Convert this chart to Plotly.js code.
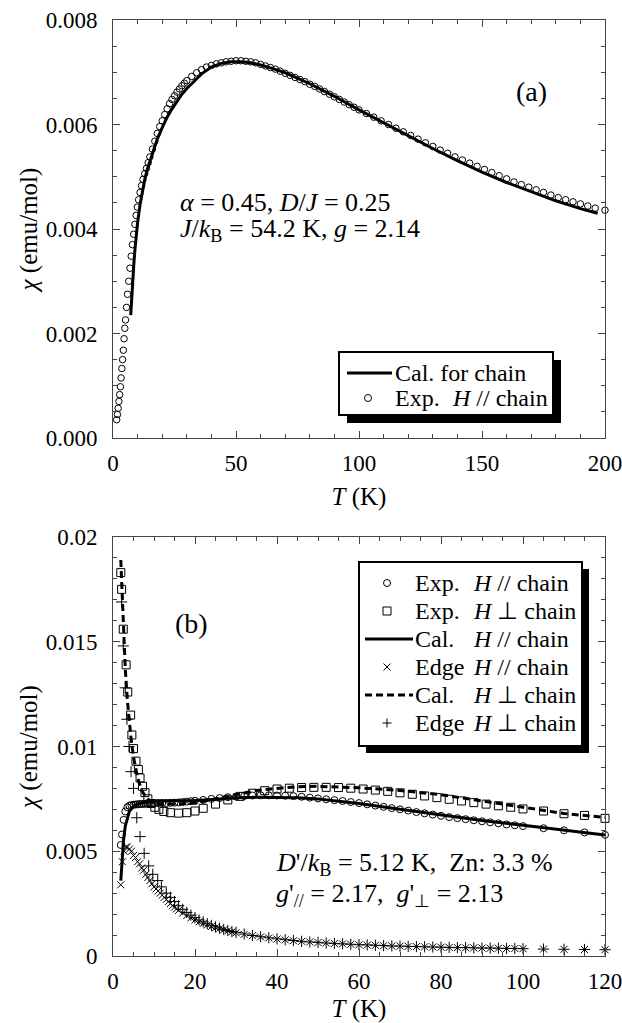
<!DOCTYPE html>
<html><head><meta charset="utf-8">
<script src="https://cdn.plot.ly/plotly-3.0.1.min.js"></script>
<style>html,body{margin:0;padding:0;background:#fff;}#chart{width:622px;height:1023px;}</style>
</head><body><div id="chart"></div>
<script>
// ---------- Panel (a) data ----------
const A_T_exp = [
1.5, 1.8, 2.1, 2.4, 2.7, 3.0, 3.3, 3.6, 3.9, 4.2,
4.5, 4.8, 5.1, 5.5, 5.9, 6.4, 6.9, 7.4, 7.9, 8.4,
8.9, 9.4, 9.9, 10.4, 11.0, 11.6, 12.2, 12.9, 13.6, 14.3,
15, 16, 17, 18, 19, 20, 21, 22, 23, 24,
25, 26, 27, 28, 29, 30, 32, 34, 36, 38,
40, 42, 44, 46, 48, 50, 52, 54, 56, 58,
60, 62, 64, 66, 68, 70, 72, 74, 76, 78,
80, 82, 84, 86, 88, 90, 92, 94, 96, 98,
100, 103, 106, 109, 112, 115, 118, 121, 124, 127,
130, 133, 136, 139, 142, 145, 148, 151, 154, 157,
160, 163, 166, 169, 172, 175, 178, 181, 184, 187,
190, 193, 196, 200];
const A_chi_exp = [
0.00035, 0.00045, 0.00057, 0.0007, 0.00083, 0.00098, 0.00115, 0.00133, 0.0015, 0.00168,
0.0019, 0.0021, 0.00226, 0.0025, 0.00275, 0.003, 0.00325, 0.00348, 0.0037, 0.0039,
0.00409, 0.00426, 0.00442, 0.00456, 0.0047, 0.00483, 0.00495, 0.00506, 0.00516, 0.00527,
0.00538, 0.00553, 0.00568, 0.00583, 0.00596, 0.00607, 0.00619, 0.0063, 0.0064, 0.00648,
0.00655, 0.00662, 0.00668, 0.00674, 0.00679, 0.00684, 0.00692, 0.00699, 0.00705, 0.0071,
0.00713, 0.00716, 0.00718, 0.0072, 0.00721, 0.00722, 0.00722, 0.00721, 0.0072, 0.00718,
0.00715, 0.00712, 0.00709, 0.00706, 0.00702, 0.00698, 0.00694, 0.0069, 0.00686, 0.00682,
0.00677, 0.00673, 0.00668, 0.00663, 0.00658, 0.00653, 0.00648, 0.00643, 0.00638, 0.00633,
0.00628, 0.00621, 0.00614, 0.00607, 0.006, 0.00593, 0.00586, 0.00579, 0.00572, 0.00565,
0.00558, 0.00551, 0.00545, 0.00538, 0.00532, 0.00526, 0.0052, 0.00514, 0.00508, 0.00502,
0.00496, 0.0049, 0.00485, 0.0048, 0.00475, 0.0047, 0.00465, 0.0046, 0.00456, 0.00452,
0.00448, 0.00444, 0.0044, 0.00436];
const A_T_cal = [
7.2, 7.6, 8.0, 8.5, 9.0, 9.5, 10, 11, 12, 13,
14, 15, 16, 18, 20, 22, 24, 26, 28, 30,
33, 36, 40, 44, 48, 52, 56, 60, 65, 70,
80, 90, 100, 110, 120, 130, 140, 150, 160, 170,
180, 190, 197];
const A_chi_cal = [
0.00235, 0.0027, 0.00302, 0.00335, 0.00365, 0.0039, 0.00412, 0.00447, 0.00475, 0.00497,
0.00515, 0.0053, 0.00545, 0.00572, 0.00594, 0.00614, 0.0063, 0.00645, 0.00658, 0.00669,
0.00684, 0.00697, 0.0071, 0.00717, 0.0072, 0.0072, 0.00718, 0.00714, 0.00707, 0.00699,
0.00678, 0.00654, 0.00628, 0.00603, 0.00578, 0.00554, 0.00531, 0.00509, 0.00489, 0.00471,
0.00454, 0.00439, 0.0043];

// ---------- Panel (b) data ----------
const B_T_par = [
1.9, 2.2, 2.6, 3.0, 3.5, 4.0, 4.5, 5.0, 5.5, 6.0,
6.5, 7.0, 7.5, 8.0, 8.5, 9.0, 9.5, 10, 11, 12,
13, 14, 15, 16, 17, 18, 19, 20, 22, 24,
26, 28, 30, 32, 34, 36, 38, 40, 42, 44,
46, 48, 50, 52, 54, 56, 58, 60, 62, 64,
66, 68, 70, 72, 74, 76, 78, 80, 82, 84,
86, 88, 90, 92, 94, 96, 98, 100, 105, 110,
115, 120];
const B_chi_par = [
0.0053, 0.0058, 0.0065, 0.0069, 0.0071, 0.00718, 0.0072, 0.00722, 0.00723, 0.00724,
0.00725, 0.00726, 0.00726, 0.00727, 0.00728, 0.00728, 0.00729, 0.0073, 0.0073, 0.0073,
0.0073, 0.00731, 0.00732, 0.00733, 0.00735, 0.00737, 0.00739, 0.00741, 0.00745, 0.0075,
0.00754, 0.00758, 0.00761, 0.00764, 0.00766, 0.00767, 0.00767, 0.00766, 0.00765, 0.00763,
0.0076, 0.00756, 0.00752, 0.00748, 0.00744, 0.0074, 0.00735, 0.0073, 0.00724, 0.00718,
0.00712, 0.00706, 0.007, 0.00694, 0.00687, 0.00681, 0.00675, 0.00669, 0.00663, 0.00658,
0.00653, 0.00648, 0.00643, 0.00638, 0.00633, 0.00628, 0.00624, 0.0062, 0.0061, 0.006,
0.0059, 0.00578];
const B_T_perp = [
1.9, 2.1, 2.5, 3.2, 3.6, 4.3, 4.6, 5.0, 5.6, 6.2,
6.6, 7.2, 7.8, 8.5, 9.3, 10.2, 11.2, 12.4, 14, 16,
18, 20, 22, 25, 28, 31, 34, 37, 40, 43,
46, 49, 52, 55, 58, 61, 64, 67, 70, 73,
76, 79, 82, 85, 88, 91, 94, 97, 100, 105,
110, 115, 120];
const B_chi_perp = [
0.0183, 0.0175, 0.0156, 0.0139, 0.0126, 0.0115, 0.01055, 0.0099, 0.0093, 0.0089,
0.0085, 0.0081, 0.0078, 0.0075, 0.00728, 0.0071, 0.007, 0.0069, 0.00684, 0.00682,
0.00684, 0.00692, 0.00705, 0.00725, 0.00745, 0.00762, 0.00777, 0.00789, 0.00797, 0.00801,
0.00804, 0.00805, 0.00805, 0.00804, 0.00801, 0.00797, 0.00792, 0.00786, 0.00779, 0.00772,
0.00764, 0.00756, 0.00748, 0.0074, 0.00732, 0.00725, 0.00717, 0.0071, 0.00702, 0.00692,
0.00679, 0.00671, 0.00657];
const B_T_cpar = [
1.9, 2.1, 2.3, 2.6, 3.0, 3.5, 4.0, 5.0, 6.0, 7.0,
8, 10, 12, 15, 20, 25, 30, 35, 40, 45,
50, 60, 70, 80, 90, 100, 110, 120];
const B_chi_cpar = [
0.0036, 0.0043, 0.0049, 0.0056, 0.0062, 0.0066, 0.0069, 0.00715, 0.00725, 0.0073,
0.00735, 0.0074, 0.0074, 0.0074, 0.00742, 0.00748, 0.00755, 0.00758, 0.00758, 0.00755,
0.0075, 0.00728, 0.007, 0.00672, 0.00647, 0.00624, 0.00602, 0.00578];
const B_T_cperp = [
1.9, 2.0, 2.2, 2.5, 3.0, 3.5, 4.0, 4.5, 5.0, 5.5,
6, 7, 8, 9, 10, 12, 15, 20, 25, 30,
35, 40, 45, 50, 55, 60, 70, 80, 90, 100,
110, 120];
const B_chi_cperp = [
0.0189, 0.0184, 0.0172, 0.0157, 0.0137, 0.0122, 0.0111, 0.0102, 0.0095, 0.0089,
0.0085, 0.0079, 0.0076, 0.0074, 0.0073, 0.00725, 0.00725, 0.0073, 0.0075, 0.0077,
0.0079, 0.008, 0.00808, 0.0081, 0.00808, 0.00803, 0.0079, 0.0077, 0.0074, 0.0071,
0.0068, 0.00662];
const B_T_edgePar = [
1.9, 2.3, 2.7, 3.1, 3.5, 4.0, 4.5, 5.0, 5.5, 6.0,
6.5, 7.0, 7.5, 8.0, 8.5, 9.0, 9.5, 10, 10.5, 11,
11.5, 12, 12.5, 13, 13.5, 14, 14.5, 15, 15.5, 16,
17, 18, 19, 20, 21, 22, 23, 24, 25, 26,
27, 28, 29, 30, 32, 34, 36, 38, 40, 42,
44, 46, 48, 50, 52, 54, 56, 58, 60, 62,
64, 66, 68, 70, 72, 74, 76, 78, 80, 82,
84, 86, 88, 90, 92, 94, 96, 98, 100, 105,
110, 115, 120];
const B_chi_edgePar = [
0.0034, 0.0045, 0.005, 0.0052, 0.0052, 0.0051, 0.005, 0.0048, 0.0047, 0.0045,
0.0044, 0.0042, 0.0041, 0.0039, 0.00375, 0.0036, 0.00345, 0.0033, 0.0032, 0.0031,
0.003, 0.0029, 0.0028, 0.0027, 0.0026, 0.0025, 0.0024, 0.00233, 0.00225, 0.00218,
0.00205, 0.00193, 0.00182, 0.00172, 0.00163, 0.00155, 0.00148, 0.00141, 0.00135, 0.0013,
0.00125, 0.0012, 0.00115, 0.00111, 0.00103, 0.00097, 0.00091, 0.00086, 0.00081, 0.00077,
0.00073, 0.0007, 0.00067, 0.00064, 0.00062, 0.0006, 0.00058, 0.00056, 0.00054, 0.00052,
0.00051, 0.00049, 0.00048, 0.00047, 0.00046, 0.00045, 0.00044, 0.00043, 0.00042, 0.00041,
0.0004, 0.00039, 0.00039, 0.00038, 0.00037, 0.00037, 0.00036, 0.00036, 0.00035, 0.00033,
0.00032, 0.00031, 0.0003];
const B_T_edgePerp = [
2.1, 2.5, 3.0, 3.4, 3.9, 4.4, 5.0, 5.8, 6.6, 7.6,
8.7, 9.7, 10.9, 11.8, 13, 14, 15, 16, 17, 18,
19, 20, 21, 22, 23, 24, 25, 26, 27, 28,
29, 30, 32, 34, 36, 38, 40, 42, 44, 46,
48, 50, 52, 54, 56, 58, 60, 62, 64, 66,
68, 70, 72, 74, 76, 78, 80, 82, 84, 86,
88, 90, 92, 94, 96, 98, 100, 105, 110, 115,
120];
const B_chi_edgePerp = [
0.0169, 0.0148, 0.0128, 0.0113, 0.01, 0.0088, 0.008, 0.0066, 0.0057, 0.0049,
0.0043, 0.0039, 0.0036, 0.0033, 0.003, 0.0028, 0.0026, 0.0024, 0.00223, 0.00208,
0.00195, 0.00183, 0.00172, 0.00163, 0.00154, 0.00146, 0.00139, 0.00133, 0.00127, 0.00122,
0.00117, 0.00113, 0.00105, 0.00098, 0.00092, 0.00087, 0.00082, 0.00078, 0.00074, 0.0007,
0.00067, 0.00065, 0.00062, 0.0006, 0.00058, 0.00056, 0.00054, 0.00053, 0.00051, 0.0005,
0.00048, 0.00047, 0.00046, 0.00045, 0.00044, 0.00043, 0.00042, 0.00041, 0.0004, 0.0004,
0.00039, 0.00038, 0.00038, 0.00037, 0.00036, 0.00036, 0.00035, 0.00033, 0.00032, 0.00031,
0.0003];

// ---------- Text ----------
const FONT = 'Liberation Serif, Times New Roman, serif';
const legendA = [
  {kind: 'line', head: 'Cal. for chain', tail: ''},
  {kind: 'circle', head: 'Exp.', tail: '<i>H</i> // chain'}
];
const legendB = [
  {kind: 'circle', head: 'Exp.', tail: '<i>H</i> // chain'},
  {kind: 'square', head: 'Exp.', tail: '<i>H</i> ⊥ chain'},
  {kind: 'line', head: 'Cal.', tail: '<i>H</i> // chain'},
  {kind: 'x', head: 'Edge', tail: '<i>H</i> // chain'},
  {kind: 'dash', head: 'Cal.', tail: '<i>H</i> ⊥ chain'},
  {kind: 'plus', head: 'Edge', tail: '<i>H</i> ⊥ chain'}
];

// ---------- helpers (pixel -> paper) ----------
const ML = 113, MR = 17, MT = 20, MB = 67, W = 622, H = 1023;
const PW = W - ML - MR, PH = H - MT - MB;
const X = px => (px - ML) / PW;
const Y = py => (H - MB - py) / PH;
const DASH = '7px,4px';

function ann(text, px, py, size, xanchor) {
  return {xref: 'paper', yref: 'paper', x: X(px), y: Y(py), text: text, showarrow: false,
    xanchor: xanchor || 'left', yanchor: 'middle', font: {family: FONT, size: size, color: '#000'}};
}
function pixShape(type, px, py, x0, y0, x1, y1, extra) {
  return Object.assign({type: type, xref: 'paper', yref: 'paper', xsizemode: 'pixel', ysizemode: 'pixel',
    xanchor: X(px), yanchor: Y(py), x0: x0, x1: x1, y0: y0, y1: y1, layer: 'above',
    line: {color: '#000', width: 1}}, extra || {});
}
function marker(kind, px, py) {
  if (kind === 'circle') return [pixShape('circle', px, py, -3.5, -3.5, 3.5, 3.5)];
  if (kind === 'square') return [pixShape('rect', px, py, -4, -4, 4, 4)];
  if (kind === 'x') return [pixShape('line', px, py, -3.5, -3.5, 3.5, 3.5), pixShape('line', px, py, -3.5, 3.5, 3.5, -3.5)];
  if (kind === 'plus') return [pixShape('line', px, py, -4.5, 0, 4.5, 0), pixShape('line', px, py, 0, -4.5, 0, 4.5)];
  return [];
}
function hline(x0, x1, py, dash) {
  return {type: 'line', xref: 'paper', yref: 'paper', x0: X(x0), x1: X(x1), y0: Y(py), y1: Y(py),
    layer: 'above', line: {color: '#000', width: 3, dash: dash || 'solid'}};
}
function box(x0, y0, x1, y1, sh) {
  return [
    {type: 'rect', xref: 'paper', yref: 'paper', x0: X(x0 + sh), x1: X(x1 + sh), y0: Y(y0 + sh), y1: Y(y1 + sh),
      fillcolor: '#000', line: {width: 0}, layer: 'above'},
    {type: 'rect', xref: 'paper', yref: 'paper', x0: X(x0), x1: X(x1), y0: Y(y0), y1: Y(y1),
      fillcolor: '#fff', line: {color: '#000', width: 2}, layer: 'above'}
  ];
}

const shapes = [], annotations = [];
// legend (a)
shapes.push(...box(339, 352, 553, 415, 8));
legendA.forEach((it, i) => {
  const py = 373 + i * 25;
  if (it.kind === 'line') shapes.push(hline(347, 392, py));
  else shapes.push(...marker(it.kind, 368, py));
  annotations.push(ann(it.head, 393, py, 24));
  if (it.tail) annotations.push(ann(it.tail, 450, py, 24));
});
// legend (b)
shapes.push(...box(359, 562, 582, 746, 7));
legendB.forEach((it, i) => {
  const py = 583 + i * 28;
  if (it.kind === 'line') shapes.push(hline(365, 413, py));
  else if (it.kind === 'dash') shapes.push(hline(365, 413, py, DASH));
  else shapes.push(...marker(it.kind, 387, py));
  annotations.push(ann(it.head, 413, py, 24));
  annotations.push(ann(it.tail, 471, py, 24));
});
// panel labels and parameter texts
annotations.push(ann('(a)', 531, 92, 28, 'center'));
annotations.push(ann('(b)', 191, 624, 28, 'center'));
annotations.push(ann('<i>α</i> = 0.45, <i>D</i>/<i>J</i> = 0.25', 178, 203, 26));
annotations.push(ann('<i>J</i>/<i>k</i><sub>B</sub> = 54.2 K, <i>g</i> = 2.14', 178, 230, 26));
annotations.push(ann('<i>D</i>\'/<i>k</i><sub>B</sub> = 5.12 K,\u00a0\u00a0Zn: 3.3 %', 274, 864, 26));
annotations.push(ann('<i>g</i>\'<sub>//</sub> = 2.17,\u00a0\u00a0<i>g</i>\'<sub>⊥</sub> = 2.13', 274, 895, 26));

// ---------- traces ----------
const mk = (sym, size) => ({symbol: sym, size: size, color: '#000', line: {color: '#000', width: 1}});
const traces = [
  {x: A_T_exp, y: A_chi_exp, type: 'scatter', mode: 'markers', marker: mk('circle-open', 6.5), cliponaxis: false, xaxis: 'x', yaxis: 'y'},
  {x: A_T_cal, y: A_chi_cal, type: 'scatter', mode: 'lines', line: {color: '#000', width: 3}, xaxis: 'x', yaxis: 'y'},
  {x: B_T_edgePar, y: B_chi_edgePar, type: 'scatter', mode: 'markers', marker: mk('x-thin-open', 7), cliponaxis: false, xaxis: 'x2', yaxis: 'y2'},
  {x: B_T_edgePerp, y: B_chi_edgePerp, type: 'scatter', mode: 'markers', marker: mk('cross-thin-open', 8), cliponaxis: false, xaxis: 'x2', yaxis: 'y2'},
  {x: B_T_par, y: B_chi_par, type: 'scatter', mode: 'markers', marker: mk('circle-open', 7), cliponaxis: false, xaxis: 'x2', yaxis: 'y2'},
  {x: B_T_perp, y: B_chi_perp, type: 'scatter', mode: 'markers', marker: mk('square-open', 8), cliponaxis: false, xaxis: 'x2', yaxis: 'y2'},
  {x: B_T_cpar, y: B_chi_cpar, type: 'scatter', mode: 'lines', line: {color: '#000', width: 3}, xaxis: 'x2', yaxis: 'y2'},
  {x: B_T_cperp, y: B_chi_cperp, type: 'scatter', mode: 'lines', line: {color: '#000', width: 3, dash: DASH}, xaxis: 'x2', yaxis: 'y2'}
];

const axBase = {
  showgrid: false, zeroline: false, showline: true, linecolor: '#444', linewidth: 1,
  mirror: 'allticks', ticks: 'inside', ticklen: 7, tickwidth: 1, tickcolor: '#444',
  tickfont: {family: FONT, size: 23, color: '#000'}, ticklabeloverflow: 'allow'
};
const xTitle = {text: '<i>T</i> (K)', font: {family: FONT, size: 25, color: '#000'}, standoff: 12};
const yTitle = {text: '<i>χ</i> (emu/mol)', font: {family: FONT, size: 25, color: '#000'}, standoff: 0};

const yA0 = Y(438), yB1 = Y(537);
const layout = {
  width: W, height: H, margin: {l: ML, r: MR, t: MT, b: MB},
  paper_bgcolor: '#fff', plot_bgcolor: '#fff', showlegend: false,
  font: {family: FONT, color: '#000'},
  xaxis: Object.assign({}, axBase, {anchor: 'y', domain: [0, 1], range: [0, 200], dtick: 50, tick0: 0,
    minor: {dtick: 10, ticklen: 4, tickcolor: '#444', ticks: 'inside'}, ticklabelstandoff: 4, title: xTitle}),
  yaxis: Object.assign({}, axBase, {anchor: 'x', domain: [yA0, 1], range: [0, 0.008], dtick: 0.002, tick0: 0,
    tickformat: '.3f', minor: {dtick: 0.0005, ticklen: 4, tickcolor: '#444', ticks: 'inside'}, ticklabelstandoff: 10, title: yTitle}),
  xaxis2: Object.assign({}, axBase, {anchor: 'y2', domain: [0, 1], range: [0, 120], dtick: 20, tick0: 0,
    minor: {dtick: 5, ticklen: 4, tickcolor: '#444', ticks: 'inside'}, ticklabelstandoff: 4, title: xTitle}),
  yaxis2: Object.assign({}, axBase, {anchor: 'x2', domain: [0, yB1], range: [0, 0.02], dtick: 0.005, tick0: 0,
    minor: {dtick: 0.001, ticklen: 4, tickcolor: '#444', ticks: 'inside'}, ticklabelstandoff: 10, title: yTitle}),
  shapes: shapes, annotations: annotations
};
Plotly.newPlot('chart', traces, layout, {displayModeBar: false, staticPlot: true});
</script></body></html>
